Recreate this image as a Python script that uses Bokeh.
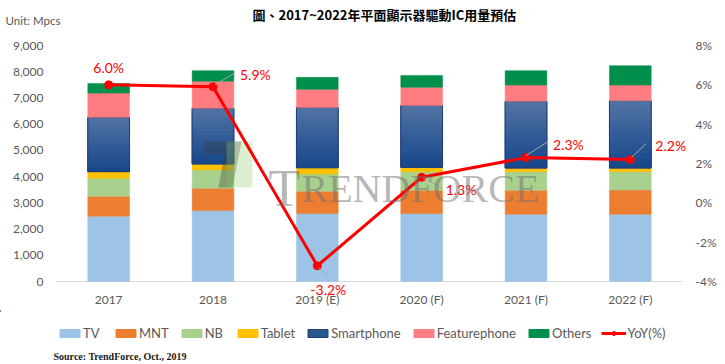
from bokeh.plotting import figure
from bokeh.layouts import column
from bokeh.models import (Range1d, LinearAxis, FixedTicker, NumeralTickFormatter,
                          PrintfTickFormatter, ColumnDataSource, Label, Legend, LegendItem)
from bokeh.core.properties import value
from bokeh.embed import file_html
from bokeh.resources import INLINE

# ---------------- data ----------------
years = ["2017", "2018", "2019 (E)", "2020 (F)", "2021 (F)", "2022 (F)"]
tv = [2490, 2705, 2590, 2590, 2565, 2565]
mnt = [760, 850, 850, 890, 915, 925]
nb = [685, 700, 660, 710, 710, 700]
tablet = [255, 230, 240, 165, 140, 140]
smartphone = [2070, 2120, 2300, 2360, 2540, 2565]
featurephone = [925, 1030, 690, 690, 620, 595]
others = [370, 405, 455, 455, 550, 740]
yoy = [6.0, 5.9, -3.2, 1.3, 2.3, 2.2]
yoy_labels = ["6.0%", "5.9%", "-3.2%", "1.3%", "2.3%", "2.2%"]
left_ticks = [0, 1000, 2000, 3000, 4000, 5000, 6000, 7000, 8000, 9000]
right_ticks = [-4, -2, 0, 2, 4, 6, 8]
title_text = "圖、2017~2022年平面顯示器驅動IC用量預估"
unit_text = "Unit: Mpcs"
source_text = "Source: TrendForce, Oct., 2019"

# ---------------- layout constants (page pixels) ----------------
W = 725
HEAD_H = 30
FOOT_H = 54
AX_L, AX_T, AX_W, AX_H = 56, 45, 626, 236      # value-axis box (0..9000, 2017..2022)
FR_R, FR_B = 690, 300                           # drawing frame extends a bit further
Y0, Y1 = 0, 9000
P0, P1 = -4, 8
GRAY = "#595959"
FONT = "Lato"

SX = 6.0 / AX_W
SY = (Y1 - Y0) / AX_H
SP = (P1 - P0) / AX_H

def px(x):
    return (x - AX_L) * SX

def py(y):
    return (AX_T + AX_H - y) * SY + Y0

COLORS = {"TV": "#9DC3E6", "MNT": "#ED7D31", "NB": "#A9D18E", "Tablet": "#FFC000",
          "Smartphone": None, "Featurephone": "#FF7C80", "Others": "#00904C"}
series = [("TV", tv), ("MNT", mnt), ("NB", nb), ("Tablet", tablet),
          ("Smartphone", smartphone), ("Featurephone", featurephone), ("Others", others)]
SMART_LEGEND = "#2B5791"
SMART_EDGE = "#1F3F78"


def blank(height):
    f = figure(width=W, height=height, x_range=Range1d(0, W), y_range=Range1d(height, 0),
               x_axis_location=None, y_axis_location=None, output_backend="svg",
               toolbar_location=None, min_border=0,
               min_border_left=0, min_border_right=0, min_border_top=0, min_border_bottom=0)
    f.frame_align = False
    f.outline_line_color = None
    f.xgrid.visible = False
    f.ygrid.visible = False
    f.border_fill_color = "white"
    f.background_fill_color = "white"
    return f

# ---------------- header ----------------
head = blank(HEAD_H)
head.text(x=[252], y=[14], text=[title_text], text_font=value("Noto Sans CJK TC"),
          text_font_style="bold", text_font_size="13px", text_color="#000000",
          text_align="left", text_baseline="middle")
head.text(x=[5], y=[20], text=[unit_text], text_font=value(FONT), text_font_size="11.5px",
          text_color=GRAY, text_align="left", text_baseline="middle")

# ---------------- main chart ----------------
FT_MAIN = AX_T - HEAD_H
p = figure(frame_width=FR_R - AX_L, frame_height=FR_B - AX_T,
           x_range=Range1d(0, px(FR_R)), y_range=Range1d(py(FR_B), Y1),
           output_backend="svg", toolbar_location=None,
           min_border_left=AX_L, min_border_right=W - FR_R,
           min_border_top=FT_MAIN, min_border_bottom=10)
p.frame_align = False
p.extra_y_ranges = {"pct": Range1d(P0 - (FR_B - AX_T - AX_H) * SP, P1)}
p.outline_line_color = None
p.xgrid.visible = False
p.ygrid.visible = False
p.background_fill_color = "white"
p.border_fill_color = "white"

xs = [i + 0.5 for i in range(len(years))]
BW = 0.4

# category axis line
p.segment(x0=[0], y0=[0], x1=[len(years)], y1=[0], line_color="#D9D9D9", line_width=1)

base = [0] * len(years)
for name, vals in series:
    col = COLORS[name]
    bottoms = base[:]
    tops = [b + v for b, v in zip(bottoms, vals)]
    if col is None:
        N = 40
        top_c = (82, 116, 164)
        bot_c = (22, 70, 138)
        bx, bb, bt, bc = [], [], [], []
        for i in range(len(years)):
            for k in range(N):
                bx.append(xs[i])
                bb.append(bottoms[i] + (tops[i] - bottoms[i]) * k / N)
                bt.append(bottoms[i] + (tops[i] - bottoms[i]) * (k + 1) / N)
                t = (k + 0.5) / N
                c = tuple(int(round(bot_c[j] + (top_c[j] - bot_c[j]) * t)) for j in range(3))
                bc.append("#%02x%02x%02x" % c)
        src = ColumnDataSource(dict(x=bx, bottom=bb, top=bt, color=bc))
        p.vbar(x="x", bottom="bottom", top="top", width=BW, source=src,
               fill_color="color", line_color="color", line_width=1)
        p.vbar(x=xs, bottom=bottoms, top=tops, width=BW, fill_color=None,
               line_color=SMART_EDGE, line_width=1)
    else:
        p.vbar(x=xs, bottom=bottoms, top=tops, width=BW,
               fill_color=col, line_color=col, line_width=0.5)
    base = tops

# watermark logo + text
p.patch(x=[px(205), px(241), px(232), px(218), px(224), px(203)],
        y=[py(141), py(141), py(187), py(187), py(154), py(154)],
        fill_color="#3a3a3a", fill_alpha=0.35, line_color=None)
p.quad(left=[px(226)], right=[px(252)], bottom=[py(187)], top=[py(141)],
       fill_color="#8CCB6A", fill_alpha=0.3, line_color=None)
p.add_layout(Label(x=px(268), y=py(188), text="T", text_font="Liberation Serif",
                   text_font_size="52px", text_color="#707070", text_alpha=0.5,
                   text_baseline="alphabetic"))
p.add_layout(Label(x=px(301), y=py(188), text="RENDFORCE", text_font="Liberation Serif",
                   text_font_size="40px", text_color="#707070", text_alpha=0.5,
                   text_baseline="alphabetic"))

# YoY line
p.line(xs, yoy, y_range_name="pct", line_color="#FF0000", line_width=3)
p.scatter(xs, yoy, y_range_name="pct", size=8, fill_color="#FF0000", line_color="#FF0000")

# leader lines (pixel offsets from each point; screen y down)
lead = [None, (2, -2, 22, -14), (1, 2, 10, 9), (2, 1, 21, 11), (0, -2, 22, -16), (1, -2, 16, -16)]
lx0, ly0, lx1, ly1 = [], [], [], []
for i, l in enumerate(lead):
    if l is None:
        continue
    lx0.append(xs[i] + l[0] * SX)
    ly0.append(yoy[i] - l[1] * SP)
    lx1.append(xs[i] + l[2] * SX)
    ly1.append(yoy[i] - l[3] * SP)
p.segment(x0=lx0, y0=ly0, x1=lx1, y1=ly1, y_range_name="pct", line_color="#A6A6A6", line_width=1)

# data labels
lab_dx = [0, 27, 11, 24, 27, 25]
lab_dy = [-17, -12, 24, 12, -13, -14]
lab_al = ["center", "left", "center", "left", "left", "left"]
lsrc = ColumnDataSource(dict(x=xs, y=yoy, t=yoy_labels, dx=lab_dx, dy=lab_dy, al=lab_al))
p.text(x="x", y="y", text="t", x_offset="dx", y_offset="dy", text_align="al",
       text_baseline="middle", source=lsrc, y_range_name="pct",
       text_font=value(FONT), text_font_size="14px", text_color="#FF0000")

# axes
p.xaxis.ticker = FixedTicker(ticks=xs)
p.xaxis.major_label_overrides = {x: y for x, y in zip(xs, years)}
p.xaxis.axis_line_color = None
p.xaxis.major_tick_line_color = None
p.xaxis.major_tick_out = 0
p.xaxis.major_tick_in = 0
p.xaxis.minor_tick_line_color = None
p.xaxis.major_label_standoff = -9
p.xaxis.major_label_text_font = FONT
p.xaxis.major_label_text_font_size = "12px"
p.xaxis.major_label_text_color = GRAY

p.yaxis.ticker = FixedTicker(ticks=left_ticks)
p.yaxis.formatter = NumeralTickFormatter(format="0,0")
p.yaxis.axis_line_color = None
p.yaxis.major_tick_line_color = None
p.yaxis.major_tick_out = 0
p.yaxis.major_tick_in = 0
p.yaxis.minor_tick_line_color = None
p.yaxis.major_label_standoff = 13
p.yaxis.major_label_text_font = FONT
p.yaxis.major_label_text_font_size = "12px"
p.yaxis.major_label_text_color = GRAY

ra = LinearAxis(y_range_name="pct", ticker=FixedTicker(ticks=right_ticks),
                formatter=PrintfTickFormatter(format="%d%%"))
ra.axis_line_color = None
ra.major_tick_line_color = None
ra.major_tick_out = 0
ra.major_tick_in = 0
ra.minor_tick_line_color = None
ra.major_label_standoff = 13 - (FR_R - AX_L - AX_W)
ra.major_label_text_font = FONT
ra.major_label_text_font_size = "12px"
ra.major_label_text_color = GRAY
p.add_layout(ra, "right")

# ---------------- footer: legend + source ----------------
foot = blank(FOOT_H)
items = []
for name, _ in series:
    col = COLORS[name]
    if col is None:
        r = foot.vbar(x=[-1000], bottom=[0], top=[1], width=1, fill_color=SMART_LEGEND,
                      line_color=SMART_EDGE)
    else:
        r = foot.vbar(x=[-1000], bottom=[0], top=[1], width=1, fill_color=col, line_color=col)
    items.append(LegendItem(label=name, renderers=[r]))
lr = foot.line(x=[-1000, -999], y=[0, 0], line_color="#FF0000", line_width=3)
sr = foot.scatter(x=[-1000], y=[0], size=8, fill_color="#FF0000", line_color="#FF0000")
items.append(LegendItem(label="YoY(%)", renderers=[lr, sr]))
legend = Legend(items=items, orientation="horizontal", location=(57, 23),
                glyph_width=25, glyph_height=10, label_standoff=1, spacing=10,
                padding=0, margin=0, border_line_color=None, background_fill_alpha=0,
                label_text_font=FONT, label_text_font_size="13px", label_text_color=GRAY)
foot.add_layout(legend)
foot.text(x=[53], y=[46], text=[source_text], text_font=value("Liberation Serif"),
          text_font_style="bold", text_font_size="10px", text_color="#1a1a1a",
          text_align="left", text_baseline="middle")

layout = column(head, p, foot, spacing=0)
open("out.html", "w").write(file_html(layout, INLINE))
